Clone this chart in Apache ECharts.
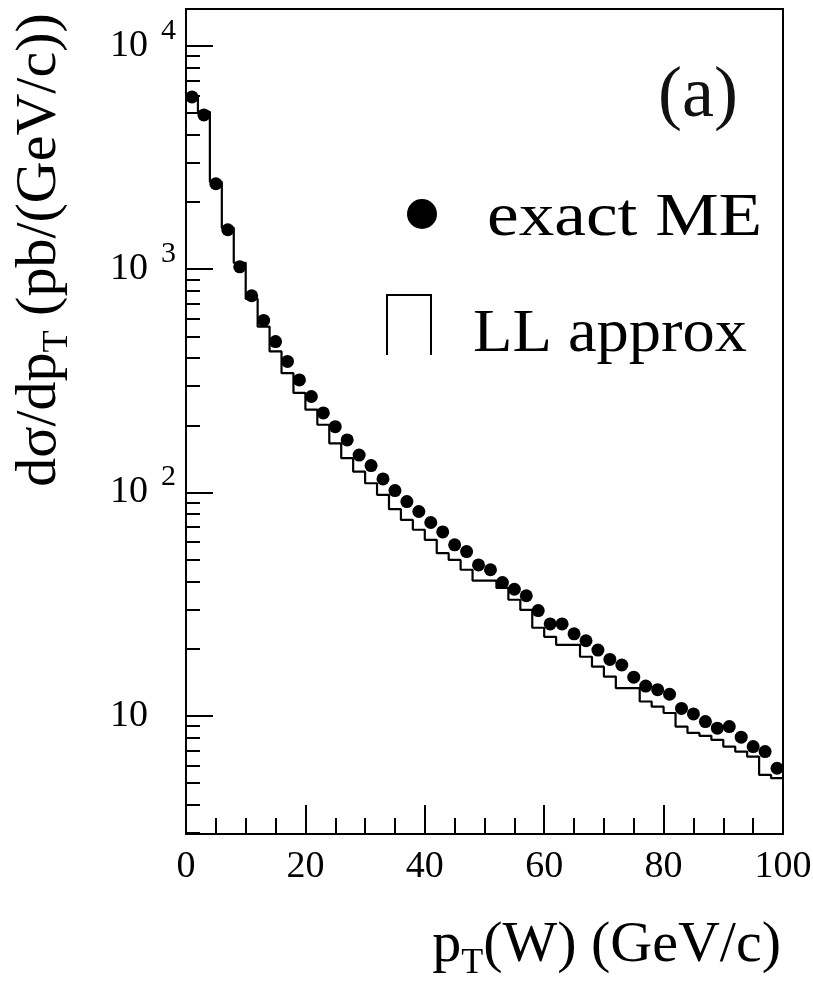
<!DOCTYPE html>
<html>
<head>
<meta charset="utf-8">
<script src="https://cdn.jsdelivr.net/npm/echarts@6/dist/echarts.min.js"></script>
<style>
  html, body { margin: 0; padding: 0; background: #fff; }
  #chart { width: 813px; height: 986px; }
</style>
</head>
<body>
<div id="chart"></div>
<script>
// bin centres of pT(W) in GeV/c (2 GeV bins)
const ptCenters = [1, 3, 5, 7, 9, 11, 13, 15, 17, 19, 21, 23, 25, 27, 29, 31, 33, 35, 37, 39,
  41, 43, 45, 47, 49, 51, 53, 55, 57, 59, 61, 63, 65, 67, 69, 71, 73, 75, 77, 79,
  81, 83, 85, 87, 89, 91, 93, 95, 97, 99];
const binWidth = 2;

// dsigma/dpT (pb/(GeV/c)) - exact matrix element (points)
const exactME = [5900, 4900, 2410, 1500, 1024, 760, 589, 474, 386, 319,
  269, 227, 197, 172, 147, 132, 115, 102, 91.1, 82.2,
  73.4, 66.6, 58.3, 54.4, 47.4, 45.1, 39.5, 36.9, 34.5, 29.6,
  25.8, 25.8, 23.3, 21.7, 19.7, 17.9, 16.9, 14.9, 13.6, 13.1,
  12.5, 10.8, 10.2, 9.43, 8.81, 8.96, 8.03, 7.29, 6.92, 5.83];

// LL approximation (histogram)
const llApprox = [5970, 5063, 2460, 1531, 1067, 736, 553, 428, 342, 279,
  235, 201, 166, 142.5, 124, 110, 97.6, 84.2, 75.4, 68.1,
  61.4, 53.5, 49.9, 45.1, 40.3, 40.3, 37.4, 33.1, 29.8, 24.8,
  22.6, 20.8, 20.8, 18.4, 16.6, 15.0, 13.3, 13.3, 11.6, 11.0,
  10.3, 8.96, 8.39, 8.14, 7.81, 7.29, 6.92, 6.57, 5.44, 5.26];

const yMajorTicks = [10, 100, 1000, 10000];
const yMinorTicks = [3, 4, 5, 6, 7, 8, 9,
  20, 30, 40, 50, 60, 70, 80, 90,
  200, 300, 400, 500, 600, 700, 800, 900,
  2000, 3000, 4000, 5000, 6000, 7000, 8000, 9000];

const SERIF = '"Liberation Serif", "DejaVu Serif", serif';

// histogram as step line over bin edges
const histData = ptCenters.map((c, i) => [c - binWidth / 2, llApprox[i]]);
histData.push([ptCenters[ptCenters.length - 1] + binWidth / 2, llApprox[llApprox.length - 1]]);
const meData = ptCenters.map((c, i) => [c, exactME[i]]);

const chart = echarts.init(document.getElementById('chart'));

const logAxisBase = {
  type: 'log',
  logBase: 10,
  min: 2.96,
  max: 14600,
  position: 'left',
  splitLine: { show: false },
};

const subStyle = { fontFamily: SERIF, fontSize: 36, fill: '#000', padding: [36, 0, 0, 0] };

chart.setOption({
  animation: false,
  backgroundColor: '#fff',
  grid: {
    left: 186, right: 30, top: 9, bottom: 152,
    show: true, borderColor: '#000', borderWidth: 2,
    containLabel: false, outerBoundsMode: 'none',
  },
  xAxis: {
    type: 'value',
    min: 0, max: 100, interval: 20,
    axisLine: { lineStyle: { color: '#000', width: 2 } },
    axisTick: { inside: true, length: 29, lineStyle: { color: '#000', width: 2 } },
    minorTick: { show: true, splitNumber: 4, length: 16, lineStyle: { color: '#000', width: 2 } },
    splitLine: { show: false },
    axisLabel: { color: '#000', fontFamily: SERIF, fontSize: 38, margin: 14 },
  },
  yAxis: [
    {
      ...logAxisBase,
      axisLine: { show: true, lineStyle: { color: '#000', width: 2 } },
      axisTick: { inside: true, length: 27, customValues: yMajorTicks, lineStyle: { color: '#000', width: 2 } },
      axisLabel: {
        customValues: yMajorTicks,
        margin: 10,
        formatter(v) {
          const e = Math.round(Math.log10(v));
          return e === 1 ? '{b|10}{s| }' : '{b|10}{s|' + e + '}';
        },
        rich: {
          b: { fontFamily: SERIF, fontSize: 38, color: '#000' },
          s: { fontFamily: SERIF, fontSize: 30, color: '#000', width: 18, padding: [0, 0, 30, 10] },
        },
      },
    },
    {
      ...logAxisBase,
      axisLine: { show: false },
      axisLabel: { show: false },
      axisTick: { inside: true, length: 14, customValues: yMinorTicks, lineStyle: { color: '#000', width: 2 } },
    },
  ],
  series: [
    {
      name: 'LL approx',
      type: 'line',
      step: 'end',
      data: histData,
      symbol: 'none',
      lineStyle: { color: '#000', width: 2.2 },
      z: 2,
    },
    {
      name: 'exact ME',
      type: 'scatter',
      data: meData,
      symbol: 'circle',
      symbolSize: 13,
      itemStyle: { color: '#000', opacity: 1 },
      z: 3,
    },
  ],
  graphic: [
    // y axis title
    {
      type: 'text', x: 40, y: 250, rotation: Math.PI / 2,
      style: {
        text: 'dσ/dp{sub|T} (pb/(GeV/c))',
        fontFamily: SERIF, fontSize: 58, fill: '#000',
        align: 'center', verticalAlign: 'middle',
        textAlign: 'center', textVerticalAlign: 'middle',
        rich: { sub: subStyle },
      },
    },
    // x axis title
    {
      type: 'text', x: 781, y: 946,
      style: {
        text: 'p{sub|T}(W) (GeV/c)',
        fontFamily: SERIF, fontSize: 58, fill: '#000',
        align: 'right', verticalAlign: 'middle',
        textAlign: 'right', textVerticalAlign: 'middle',
        rich: { sub: subStyle },
      },
    },
    // panel label
    {
      type: 'text', x: 738, y: 97,
      style: {
        text: '(a)', fontFamily: SERIF, fontSize: 72, fill: '#111',
        align: 'right', verticalAlign: 'middle', textAlign: 'right', textVerticalAlign: 'middle',
      },
    },
    // legend: exact ME
    { type: 'circle', shape: { cx: 422, cy: 214, r: 15 }, style: { fill: '#000' } },
    {
      type: 'text', x: 487, y: 219, scaleX: 1.15,
      style: {
        text: 'exact ME', fontFamily: SERIF, fontSize: 62, fill: '#000',
        align: 'left', verticalAlign: 'middle', textAlign: 'left', textVerticalAlign: 'middle',
      },
    },
    // legend: LL approx
    {
      type: 'polyline',
      shape: { points: [[387, 355], [387, 295], [431, 295], [431, 355]] },
      style: { stroke: '#000', lineWidth: 2, fill: null },
    },
    {
      type: 'text', x: 473, y: 335, scaleX: 1.04,
      style: {
        text: 'LL approx', fontFamily: SERIF, fontSize: 62, fill: '#000',
        align: 'left', verticalAlign: 'middle', textAlign: 'left', textVerticalAlign: 'middle',
      },
    },
  ],
});
</script>
</body>
</html>
